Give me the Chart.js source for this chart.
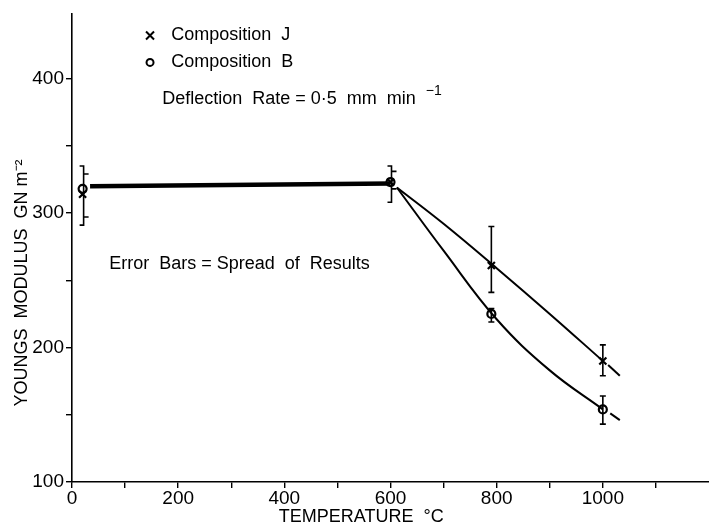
<!DOCTYPE html>
<html>
<head>
<meta charset="utf-8">
<script src="https://cdn.jsdelivr.net/npm/chart.js@4"></script>
<style>
  html, body { margin: 0; padding: 0; background: #fff; }
  #wrap { width: 709px; height: 525px; }
</style>
</head>
<body>
<div id="wrap"><canvas id="myChart" width="709" height="525"></canvas></div>
<script>
// measured points (temperature C, modulus GN m-2)
var tempJ = [20, 600, 790, 1000];
var modJ = [314, 323, 261, 190];
var tempB = [20, 600, 790, 1000];
var modB = [318, 323, 225, 154];
// spread of results
var errJ = [[291, 335], [308, 335], [241, 290], [179, 202]];
var errB = [[297, 329], [318, 331], [219, 229], [143, 164]];
// drawn curves
var flatX = [34, 600];
var flatY = [320, 322];
var curveJx = [612, 700, 800, 900, 1000];
var curveJy = [319, 292, 259, 225, 190];
var curveBx = [612, 700, 800, 900, 1000];
var curveBy = [319, 272, 221, 183, 154];
var dashJx = [1010, 1032];
var dashJy = [187, 179];
var dashBx = [1014, 1032];
var dashBy = [151, 146];

var xTicks = [0, 100, 200, 300, 400, 500, 600, 700, 800, 900, 1000, 1100];
var yTicks = [100, 150, 200, 250, 300, 350, 400];

var font = "'Liberation Sans', Arial, sans-serif";

function pts(xs, ys) {
    var out = [];
    for (var i = 0; i < xs.length; i++) out.push({x: xs[i], y: ys[i]});
    return out;
}

var extras = {
    id: 'extras',
    afterDatasetsDraw: function(chart) {
        var ctx = chart.ctx;
        var xs = chart.scales.x, ys = chart.scales.y;
        ctx.save();
        ctx.strokeStyle = '#000';
        ctx.fillStyle = '#000';
        ctx.lineWidth = 1.6;
        // error bars
        for (var i = 0; i < tempJ.length; i++) {
            var px = xs.getPixelForValue(tempJ[i]);
            if (tempJ[i] <= 600) {
                // bracket style
                var bx = px + 1;
                var t = ys.getPixelForValue(errJ[i][1]);
                var b = ys.getPixelForValue(errJ[i][0]);
                ctx.beginPath();
                ctx.moveTo(bx - 4, t); ctx.lineTo(bx, t); ctx.lineTo(bx, b); ctx.lineTo(bx - 4, b);
                ctx.stroke();
                var t2 = ys.getPixelForValue(errB[i][1]);
                var b2 = ys.getPixelForValue(errB[i][0]);
                ctx.beginPath();
                ctx.moveTo(bx, t2); ctx.lineTo(bx + 5, t2);
                ctx.moveTo(bx, b2); ctx.lineTo(bx + 5, b2);
                ctx.stroke();
            } else {
                [errJ[i], errB[i]].forEach(function(e) {
                    var t = ys.getPixelForValue(e[1]);
                    var b = ys.getPixelForValue(e[0]);
                    ctx.beginPath();
                    ctx.moveTo(px, t); ctx.lineTo(px, b);
                    ctx.moveTo(px - 3, t); ctx.lineTo(px + 3, t);
                    ctx.moveTo(px - 3, b); ctx.lineTo(px + 3, b);
                    ctx.stroke();
                });
            }
        }
        // key
        ctx.font = '18px ' + font;
        ctx.textBaseline = 'middle';
        ctx.textAlign = 'left';
        var kx = xs.getPixelForValue(147);
        var ky1 = ys.getPixelForValue(432);
        var ky2 = ys.getPixelForValue(412);
        ctx.lineWidth = 2;
        ctx.beginPath();
        ctx.moveTo(kx - 4, ky1 - 4); ctx.lineTo(kx + 4, ky1 + 4);
        ctx.moveTo(kx + 4, ky1 - 4); ctx.lineTo(kx - 4, ky1 + 4);
        ctx.stroke();
        ctx.beginPath();
        ctx.arc(kx, ky2, 3.5, 0, Math.PI * 2);
        ctx.stroke();
        var tx = xs.getPixelForValue(187);
        ctx.fillText('Composition  J', tx, ky1);
        ctx.fillText('Composition  B', tx, ky2);
        var dx = xs.getPixelForValue(170);
        var dy = ys.getPixelForValue(385);
        var s = 'Deflection  Rate = 0\u00b75  mm  min';
        ctx.fillText(s, dx, dy);
        var w = ctx.measureText(s).width;
        ctx.font = '14px ' + font;
        ctx.fillText('\u22121', dx + w + 10, dy - 8);
        ctx.font = '18px ' + font;
        ctx.fillText('Error  Bars = Spread  of  Results', xs.getPixelForValue(70), ys.getPixelForValue(262));
        // axis titles
        ctx.textAlign = 'center';
        ctx.fillText('TEMPERATURE  \u00b0C', xs.getPixelForValue(545), 517);
        ctx.save();
        ctx.translate(22, ys.getPixelForValue(248));
        ctx.rotate(-Math.PI / 2);
        ctx.fillText('YOUNGS  MODULUS  GN m\u207b\u00b2', 0, 0);
        ctx.restore();
        ctx.restore();
    }
};

var ctx = document.getElementById('myChart').getContext('2d');
var myChart = new Chart(ctx, {
    type: 'scatter',
    data: {
        datasets: [
            {data: pts(flatX, flatY), showLine: true, borderColor: '#000', borderWidth: 4.5, pointRadius: 0},
            {data: pts(curveJx, curveJy), showLine: true, borderColor: '#000', borderWidth: 2, pointRadius: 0, tension: 0.4},
            {data: pts(curveBx, curveBy), showLine: true, borderColor: '#000', borderWidth: 2, pointRadius: 0, tension: 0.4},
            {data: pts(dashJx, dashJy), showLine: true, borderColor: '#000', borderWidth: 2, pointRadius: 0},
            {data: pts(dashBx, dashBy), showLine: true, borderColor: '#000', borderWidth: 2, pointRadius: 0},
            {data: pts(tempJ, modJ), pointStyle: 'crossRot', pointRadius: 5, borderColor: '#000', borderWidth: 2.2},
            {data: pts(tempB, modB), pointStyle: 'circle', pointRadius: 4, borderColor: '#000', backgroundColor: '#fff', borderWidth: 2.2}
        ]
    },
    options: {
        responsive: false,
        animation: false,
        layout: {autoPadding: false, padding: {left: 28, top: 14, right: 0, bottom: 0}},
        plugins: {legend: {display: false}, tooltip: {enabled: false}},
        scales: {
            x: {
                type: 'linear', min: 0, max: 1200,
                afterBuildTicks: function(axis) { axis.ticks = xTicks.map(function(v) { return {value: v}; }); },
                afterFit: function(scale) { scale.height = 43; },
                ticks: {
                    autoSkip: false, maxRotation: 0, color: '#000', padding: -1,
                    font: {family: font, size: 19},
                    callback: function(v) { return (v % 200 === 0 && v <= 1000) ? String(v) : ''; }
                },
                grid: {drawOnChartArea: false, drawTicks: true, tickLength: 6, color: '#000', lineWidth: 1.4},
                border: {color: '#000', width: 1.6}
            },
            y: {
                type: 'linear', min: 100, max: 448,
                afterBuildTicks: function(axis) { axis.ticks = yTicks.map(function(v) { return {value: v}; }); },
                afterFit: function(scale) { scale.width = 44; },
                ticks: {
                    autoSkip: false, color: '#000', padding: 2,
                    font: {family: font, size: 19},
                    callback: function(v) { return v % 100 === 0 ? String(v) : ''; }
                },
                grid: {drawOnChartArea: false, drawTicks: true, tickLength: 6, color: '#000', lineWidth: 1.4},
                border: {color: '#000', width: 1.6}
            }
        }
    },
    plugins: [extras]
});
</script>
</body>
</html>
